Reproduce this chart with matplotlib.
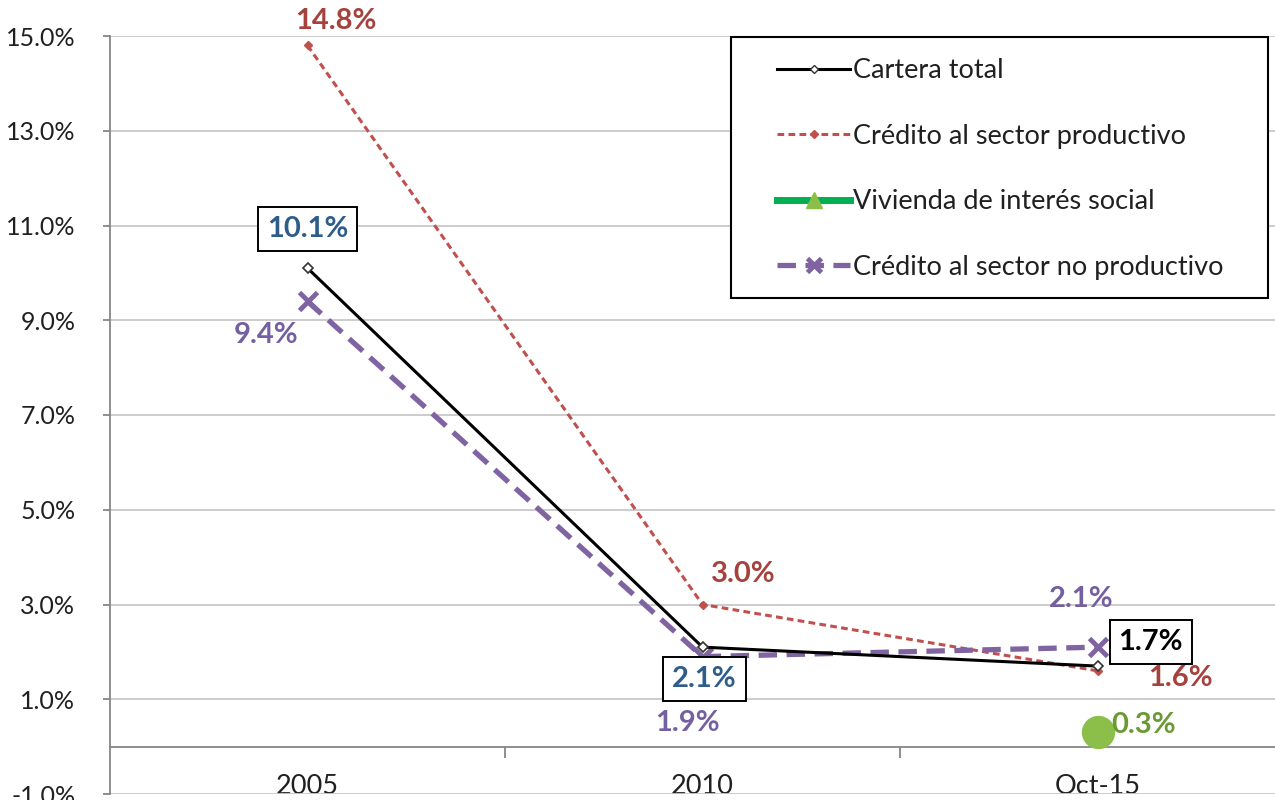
import numpy as np
import matplotlib.pyplot as plt
from matplotlib.lines import Line2D
from matplotlib.patches import Rectangle

plt.rcParams['font.family'] = ['Lato', 'DejaVu Sans']

categories = ['2005', '2010', 'Oct-15']
cartera_total = [10.1, 2.1, 1.7]
sector_productivo = [14.8, 3.0, 1.6]
vivienda_social = [np.nan, np.nan, 0.3]
no_productivo = [9.4, 1.9, 2.1]

y_ticks = [-1, 1, 3, 5, 7, 9, 11, 13, 15]

W, H = 1275, 800
fig = plt.figure(figsize=(W / 100, H / 100), dpi=100)
ax = fig.add_axes([110 / W, 6 / H, 1185 / W, 758 / H])

x = np.arange(len(categories))

red = '#c0504d'
purple = '#8064a2'
green_line = '#00b050'
green_mark = '#8cbf4a'

ax.plot(x, sector_productivo, color=red, lw=2.2, ls=(0, (2.2, 1.4)),
        marker='D', ms=4, mfc=red, mec=red, zorder=3)
ax.plot(x, no_productivo, color=purple, lw=3.8, ls=(0, (3.5, 1.8)),
        marker='x', ms=13, mew=3.5, zorder=4)
ax.plot(x, cartera_total, color='black', lw=2.2,
        marker='D', ms=5, mfc='white', mec='#333333', mew=1.2, zorder=5)
ax.plot(x, vivienda_social, color=green_line, lw=5, ls='none',
        marker='o', ms=23, mfc=green_mark, mec=green_mark, zorder=6)

ax.set_xlim(-0.5, 2.5)
ax.set_ylim(-1, 15)
ax.set_yticks(y_ticks)
ax.set_yticklabels([f'{v:.1f}%' for v in y_ticks])
ax.yaxis.grid(True, color='#c8c8c8', lw=1.3)
ax.set_axisbelow(True)

ax.spines['bottom'].set_position(('data', 0))
ax.spines['bottom'].set_color('#868686')
ax.spines['bottom'].set_linewidth(1.3)
ax.spines['left'].set_color('#868686')
ax.spines['left'].set_linewidth(1.3)
ax.spines['top'].set_visible(False)
ax.spines['right'].set_visible(False)

ax.set_xticks([0.5, 1.5])
ax.set_xticklabels([])
ax.tick_params(axis='x', which='major', length=8, color='#868686', width=1.3)
ax.set_xticks(x, minor=True)
ax.set_xticklabels(categories, minor=True)
ax.tick_params(axis='x', which='minor', length=0, pad=20, labelsize=19.5, labelcolor='#202020')
ax.tick_params(axis='y', length=5, color='#868686', width=1.3, pad=20,
               labelsize=18, labelcolor='#202020')

label_red = '#a5423d'
label_purple = '#7460a0'
label_blue = '#2e5d8b'
label_green = '#6b9a35'


def label(xi, v, dx, dy, color, boxed=False):
    kw = dict(textcoords='offset points', ha='center', va='center',
              fontsize=21, fontweight='bold', color=color, zorder=8,
              annotation_clip=False)
    if boxed:
        kw['bbox'] = dict(boxstyle='square,pad=0.3', fc='white', ec='black', lw=1.4)
    ax.annotate(f'{v:.1f}%', (xi, v), xytext=(dx * 0.72, dy * 0.72), **kw)


label(0, sector_productivo[0], 28, 24, label_red)
label(1, sector_productivo[1], 41, 31, label_red)
label(2, sector_productivo[2], 83, -7, label_red)

label(0, cartera_total[0], 0, 39, label_blue, boxed=True)
label(1, cartera_total[1], 2, -32, label_blue, boxed=True)
label(2, cartera_total[2], 53, 24, 'black', boxed=True)

label(0, no_productivo[0], -41, -34, label_purple)
label(1, no_productivo[1], -15, -66, label_purple)
label(2, no_productivo[2], -16, 48, label_purple)

label(2, vivienda_social[2], 46, 7, label_green)

# legend
handles = [
    Line2D([], [], color='black', lw=2.2, marker='D', ms=4, mfc='white', mec='#333333'),
    Line2D([], [], color=red, lw=2.2, ls=(0, (2.2, 1.4)), marker='D', ms=4, mfc=red, mec=red),
    Line2D([], [], color=green_line, lw=5, marker='^', ms=11, mfc=green_mark, mec=green_mark),
    Line2D([], [], color=purple, lw=3.8, ls=(0, (3.5, 1.8)), marker='x', ms=10, mew=3.5),
]
names = ['Cartera total', 'Crédito al sector productivo',
         'Vivienda de interés social', 'Crédito al sector no productivo']
fig.patches.append(Rectangle((731 / W, 1 - 298 / H), 537 / W, 261 / H,
                             transform=fig.transFigure, fc='white', ec='black',
                             lw=1.5, zorder=10))
leg = fig.legend(handles, names, loc='upper left',
                 bbox_to_anchor=(777 / W, 1 - 58 / H), frameon=False,
                 fontsize=19.5, handlelength=2.7, handletextpad=0.1,
                 labelspacing=1.5, borderpad=0, borderaxespad=0)
leg.set_zorder(11)
for t in leg.get_texts():
    t.set_color('#202020')

fig.savefig('out.png', dpi=100)
